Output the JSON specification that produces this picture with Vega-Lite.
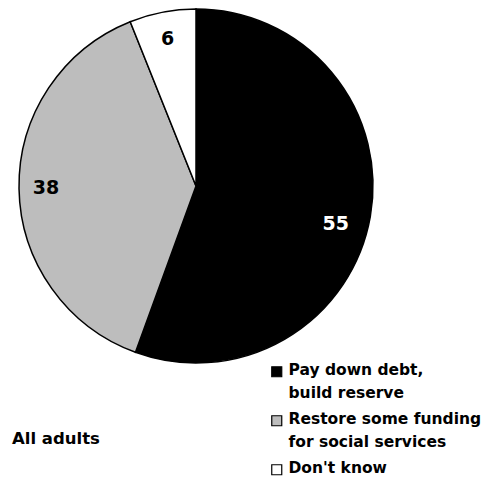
{
  "$schema": "https://vega.github.io/schema/vega-lite/v6.json",
  "width": 392,
  "height": 372,
  "autosize": {"type": "none"},
  "padding": {"left": 0, "top": 0, "right": 95, "bottom": 109},
  "background": "#ffffff",
  "title": {
    "text": "All adults",
    "orient": "bottom",
    "anchor": "start",
    "offset": -47,
    "dx": 12,
    "font": "DejaVu Sans",
    "fontSize": 16.5,
    "fontWeight": "bold",
    "color": "#000000"
  },
  "data": {
    "values": [
      {"answer": "Pay down debt, build reserve", "pct": 55, "order": 1},
      {"answer": "Restore some funding for social services", "pct": 38, "order": 2},
      {"answer": "Don't know", "pct": 6, "order": 3}
    ]
  },
  "encoding": {
    "theta": {"field": "pct", "type": "quantitative", "stack": true},
    "order": {"field": "order", "type": "quantitative"}
  },
  "layer": [
    {
      "mark": {"type": "arc", "radius": 177, "stroke": "#000000", "strokeWidth": 1.5},
      "encoding": {
        "color": {
          "field": "answer",
          "type": "nominal",
          "scale": {
            "domain": ["Pay down debt, build reserve", "Restore some funding for social services", "Don't know"],
            "range": ["#000000", "#bdbdbd", "#ffffff"]
          },
          "legend": {
            "title": null,
            "orient": "none",
            "legendX": 269,
            "legendY": 364,
            "symbolType": "square",
            "symbolSize": 100,
            "symbolStrokeColor": "#000000",
            "symbolStrokeWidth": 1.2,
            "symbolOpacity": 1,
            "labelFont": "DejaVu Sans",
            "labelFontSize": 15.5,
            "labelFontWeight": "bold",
            "labelColor": "#000000",
            "labelLimit": 300,
            "labelOffset": 4,
            "labelBaseline": "top",
            "rowPadding": 9,
            "labelExpr": "datum.label == 'Pay down debt, build reserve' ? ['Pay down debt,', 'build reserve'] : datum.label == 'Restore some funding for social services' ? ['Restore some funding', 'for social services'] : datum.label",
            "encode": {
              "labels": {"update": {"lineHeight": {"value": 23}, "dy": {"value": -9}}}
            }
          }
        }
      }
    },
    {
      "mark": {"type": "text", "radius": 150, "font": "DejaVu Sans", "fontSize": 19, "fontWeight": "bold"},
      "encoding": {
        "text": {"condition": {"test": "datum.pct != 55", "field": "pct", "type": "quantitative"}, "value": ""},
        "color": {"value": "#000000"}
      }
    },
    {
      "mark": {"type": "text", "radius": 150, "font": "DejaVu Sans", "fontSize": 19, "fontWeight": "bold", "dx": -8, "dy": 12},
      "encoding": {
        "text": {"condition": {"test": "datum.pct == 55", "field": "pct", "type": "quantitative"}, "value": ""},
        "color": {"value": "#ffffff"}
      }
    }
  ]
}
